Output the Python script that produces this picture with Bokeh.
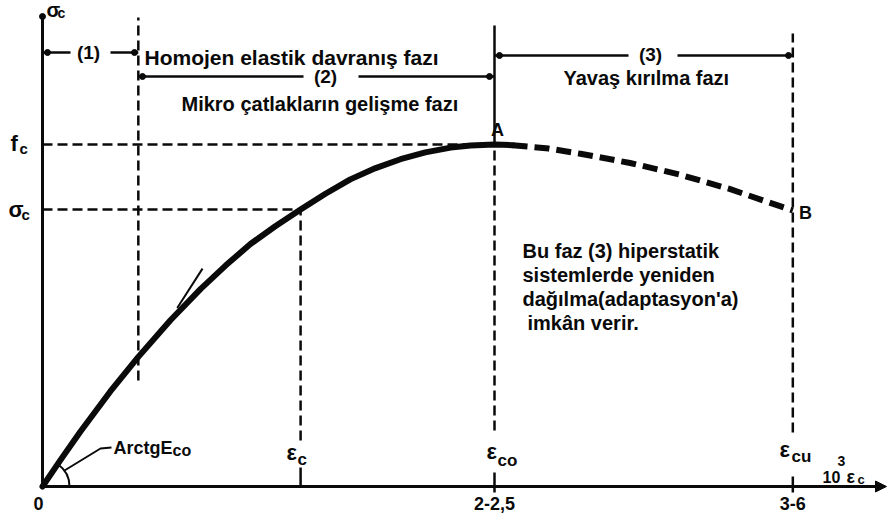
from bokeh.plotting import figure
from bokeh.models import Range1d, Arrow, NormalHead
from bokeh.core.properties import value
from bokeh.embed import file_html
from bokeh.resources import INLINE

# Strain in units of eps_co, stress in units of f_c
eps_phase1 = 0.212   # end of homogeneous elastic phase
eps_c = 0.571
eps_co = 1.0
eps_cu = 1.66
f_c = 1.0
sigma_c = 0.81

# ascending branch (solid)
eta_up = [0.0, 0.040, 0.084, 0.150, 0.212, 0.283, 0.350, 0.405, 0.460, 0.515,
          0.571, 0.626, 0.681, 0.737, 0.792, 0.847, 0.903, 0.947, 1.0, 1.04]
s_up = [0.0, 0.078, 0.161, 0.278, 0.379, 0.486, 0.578, 0.646, 0.709, 0.761,
        0.810, 0.856, 0.898, 0.931, 0.957, 0.977, 0.991, 0.997, 1.0, 0.998]

# descending branch (dashed), ends at B
eta_down = [1.04, 1.12, 1.19, 1.30, 1.41, 1.52, 1.66]
s_down = [0.998, 0.988, 0.973, 0.946, 0.912, 0.870, 0.807]

# initial tangent mark
tan_eta = [0.298, 0.354]
tan_s = [0.522, 0.637]

tick_pos = [0.0, eps_co, eps_cu]
tick_labels = ["0", "2-2,5", "3-6"]

INK = "#0a0a0a"
FONT = "Liberation Sans"

# layout helpers: drawing space is 452 px per eps_co and 342 px per f_c
OX, OY, SX, SY = 42, 486, 452.0, 342.0
W, H = 887, 518


def X(px):
    return (px - OX) / SX


def Y(py):
    return (OY - py) / SY


p = figure(width=W, height=H, output_backend="svg", toolbar_location=None,
           x_axis_location=None, y_axis_location=None,
           x_range=Range1d(X(0), X(W)), y_range=Range1d(Y(H), Y(0)),
           min_border=0, outline_line_color=None, background_fill_color="white")
p.xgrid.visible = False
p.ygrid.visible = False


def label(x, y, txt, size=19, align="left", baseline="middle", style="bold"):
    p.text(x=[x], y=[y], text=[txt], text_font=value(FONT),
           text_font_size=f"{size}px", text_font_style=style,
           text_align=align, text_baseline=baseline, text_color=INK)


def sub_label(x, y, main, sub, size=20, sub_size=15, dx=0.0, dy=0.0):
    label(x, y, main, size=size, align="left")
    label(x + dx, y + dy, sub, size=sub_size, align="left")


DASH = "10 5"

# axes
p.line([0, 0], [0, Y(14)], line_width=3, line_color=INK)
p.scatter([0], [Y(16)], size=6, color=INK)
p.add_layout(Arrow(end=NormalHead(size=11, fill_color=INK, line_color=INK),
                   x_start=0, y_start=0, x_end=X(886), y_end=0,
                   line_width=3, line_color=INK))

# horizontal reference lines
p.line([0, eps_co], [f_c, f_c], line_width=2.5, line_dash=DASH, line_color=INK)
p.line([0, eps_c], [sigma_c, sigma_c], line_width=2.5, line_dash=DASH, line_color=INK)

# vertical reference lines
p.line([eps_phase1, eps_phase1], [Y(380), Y(17)], line_width=2.5, line_dash=DASH, line_color=INK)
p.line([eps_c, eps_c], [Y(440), sigma_c], line_width=2.5, line_dash=DASH, line_color=INK)
p.line([eps_c, eps_c], [0, Y(467)], line_width=2.5, line_color=INK)
p.line([eps_co, eps_co], [Y(430), f_c], line_width=2.5, line_dash=DASH, line_color=INK)
p.line([eps_co, eps_co], [f_c, Y(25)], line_width=2.5, line_color=INK)
p.line([eps_co, eps_co], [Y(492), Y(472)], line_width=2.5, line_color=INK)
p.line([eps_cu, eps_cu], [Y(432), Y(33)], line_width=2.5, line_dash=DASH, line_color=INK)
p.line([eps_cu, eps_cu], [Y(492), Y(476)], line_width=2.5, line_color=INK)

# stress-strain curve
p.line(eta_up, s_up, line_width=6, line_color=INK, line_cap="round", line_join="round")
p.line(eta_down, s_down, line_width=6, line_color=INK, line_dash="15 7")
p.line(tan_eta, tan_s, line_width=2, line_color=INK)

# angle of the initial modulus
p.arc(x=[0], y=[0], radius=27, radius_units="screen", start_angle=0, end_angle=0.95,
      line_width=2, line_color=INK)
p.line([X(64), X(100), X(111)], [Y(470), Y(448), Y(447)], line_width=2, line_color=INK)
sub_label(X(113), Y(447), "ArctgE", "co", size=18, sub_size=16, dx=X(172) - X(113), dy=-0.01)

# phase dimension lines
for xs, yy in [([0, X(70)], 52), ([X(110), eps_phase1], 52),
               ([eps_phase1, X(303)], 76), ([X(358), eps_co], 76),
               ([eps_co, X(628)], 55), ([X(677), eps_cu], 55)]:
    p.line(xs, [Y(yy), Y(yy)], line_width=2.5, line_color=INK)
p.scatter([X(47), X(134), X(142), X(489), X(499), X(788)],
          [Y(52), Y(52), Y(76), Y(76), Y(55), Y(55)], size=6, color=INK)
label(X(88), Y(52), "(1)", align="center")
label(X(325), Y(76), "(2)", align="center")
label(X(650), Y(54), "(3)", align="center")

label(X(144), Y(57), "Homojen elastik davranış fazı", size=21)
label(X(181), Y(103), "Mikro çatlakların gelişme fazı", size=20)
label(X(563), Y(77), "Yavaş kırılma fazı", size=20)

note = ["Bu faz (3) hiperstatik", "sistemlerde yeniden",
        "dağılma(adaptasyon'a)", "imkân verir."]
for i, line in enumerate(note):
    label(X(527 if i == 3 else 522), Y(250 + 24 * i), line, size=20)

# point labels
label(X(497), Y(129), "A", size=18, align="center")
label(X(805), Y(212), "B", size=18, align="center")

# stress labels
sub_label(X(10), Y(143), "f", "c", size=22, sub_size=15, dx=X(19) - X(10), dy=-0.015)
sub_label(X(8), Y(209), "σ", "c", size=22, sub_size=15, dx=X(21) - X(8), dy=-0.015)
sub_label(X(46), Y(9), "σ", "c", size=20, sub_size=14, dx=X(57) - X(46), dy=-0.01)

# strain labels
sub_label(X(286), Y(452), "ε", "c", size=22, sub_size=17, dx=X(297) - X(286), dy=-0.02)
sub_label(X(486), Y(451), "ε", "co", size=22, sub_size=17, dx=X(497) - X(486), dy=-0.025)
sub_label(X(779), Y(449), "ε", "cu", size=22, sub_size=17, dx=X(791) - X(779), dy=-0.02)

# tick labels
for xv, t in zip(tick_pos, tick_labels):
    label(xv - (X(46) - X(42) if t == "0" else 0), Y(503), t, size=18, align="center")

# strain axis unit
label(X(822), Y(476), "10", size=16)
label(X(837), Y(460), "3", size=14)
sub_label(X(846), Y(476), "ε", "c", size=18, sub_size=13, dx=X(857) - X(846), dy=-0.01)

open("out.html", "w").write(file_html(p, INLINE))
